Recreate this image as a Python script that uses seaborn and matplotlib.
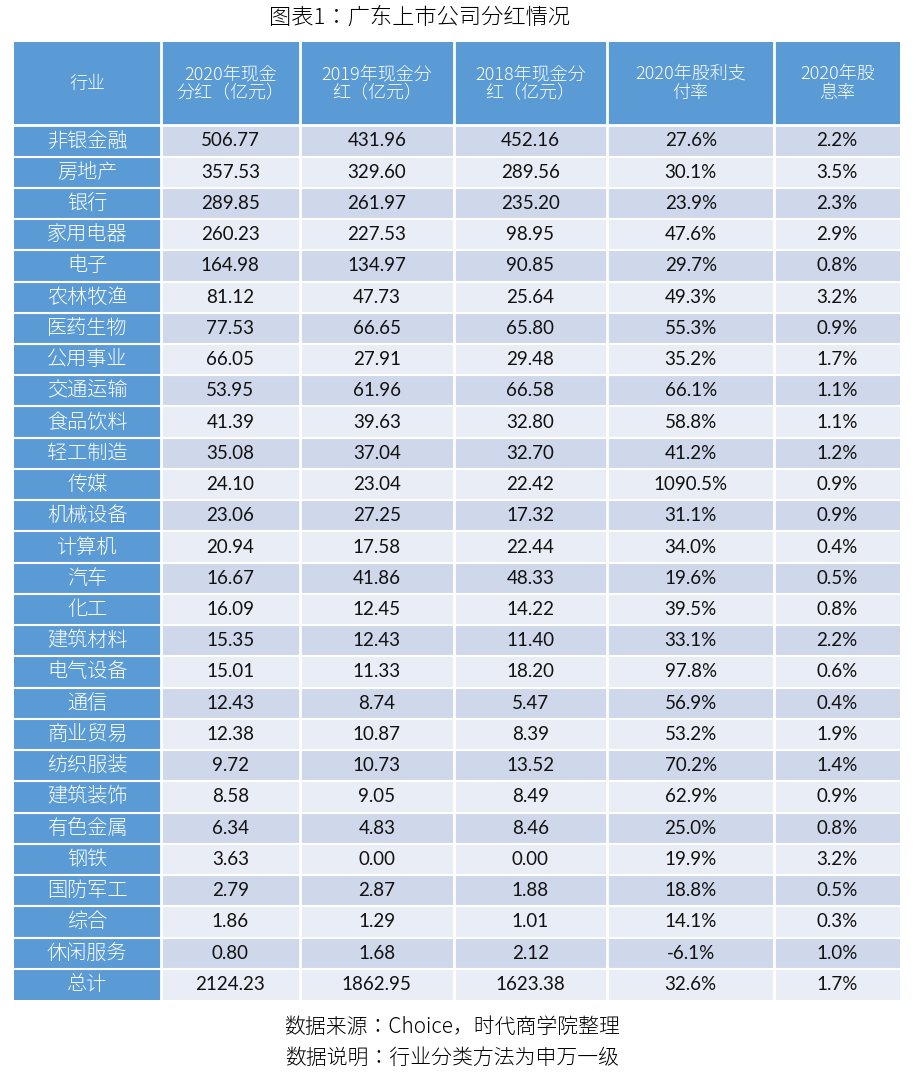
import numpy as np
import matplotlib
matplotlib.use("Agg")
import matplotlib.pyplot as plt
from matplotlib.colors import ListedColormap
from matplotlib import font_manager as fm
import seaborn as sns

industries = ["非银金融","房地产","银行","家用电器","电子","农林牧渔","医药生物","公用事业","交通运输","食品饮料",
              "轻工制造","传媒","机械设备","计算机","汽车","化工","建筑材料","电气设备","通信","商业贸易",
              "纺织服装","建筑装饰","有色金属","钢铁","国防军工","综合","休闲服务","总计"]
div2020 = ["506.77","357.53","289.85","260.23","164.98","81.12","77.53","66.05","53.95","41.39","35.08","24.10","23.06",
           "20.94","16.67","16.09","15.35","15.01","12.43","12.38","9.72","8.58","6.34","3.63","2.79","1.86","0.80","2124.23"]
div2019 = ["431.96","329.60","261.97","227.53","134.97","47.73","66.65","27.91","61.96","39.63","37.04","23.04","27.25",
           "17.58","41.86","12.45","12.43","11.33","8.74","10.87","10.73","9.05","4.83","0.00","2.87","1.29","1.68","1862.95"]
div2018 = ["452.16","289.56","235.20","98.95","90.85","25.64","65.80","29.48","66.58","32.80","32.70","22.42","17.32",
           "22.44","48.33","14.22","11.40","18.20","5.47","8.39","13.52","8.49","8.46","0.00","1.88","1.01","2.12","1623.38"]
payout = ["27.6%","30.1%","23.9%","47.6%","29.7%","49.3%","55.3%","35.2%","66.1%","58.8%","41.2%","1090.5%","31.1%",
          "34.0%","19.6%","39.5%","33.1%","97.8%","56.9%","53.2%","70.2%","62.9%","25.0%","19.9%","18.8%","14.1%","-6.1%","32.6%"]
yield_ = ["2.2%","3.5%","2.3%","2.9%","0.8%","3.2%","0.9%","1.7%","1.1%","1.1%","1.2%","0.9%","0.9%","0.4%","0.5%",
          "0.8%","2.2%","0.6%","0.4%","1.9%","1.4%","0.9%","0.8%","3.2%","0.5%","0.3%","1.0%","1.7%"]
headers = ["行业","2020年现金\n分红（亿元）","2019年现金分\n红（亿元）","2018年现金分\n红（亿元）","2020年股利支\n付率","2020年股\n息率"]
title = "图表1：广东上市公司分红情况"
notes = ["数据来源：Choice，时代商学院整理","数据说明：行业分类方法为申万一级"]

# locate a CJK font file
cjk_path = None
for f in fm.fontManager.ttflist:
    if "CJK" in f.name and ("SC" in f.name or cjk_path is None):
        cjk_path = f.fname
        if "SC" in f.name:
            break
if cjk_path is None:
    import glob
    c = glob.glob("/usr/share/fonts/**/*CJK*", recursive=True)
    cjk_path = c[0] if c else None

def cjk(size, bold=False):
    if cjk_path:
        p = fm.FontProperties(fname=cjk_path, size=size)
    else:
        p = fm.FontProperties(family="Noto Sans CJK SC", size=size)
    if bold:
        p.set_weight("bold")
    return p

colw = [21, 20, 22, 22, 24, 18]
hdr_u, row_u = 8, 3
n = len(industries)
W, H = sum(colw), hdr_u + n * row_u

grid = np.zeros((H, W))
edges = np.concatenate([[0], np.cumsum(colw)])
for r in range(n):
    code = 1 if r % 2 == 0 else 2
    y0 = hdr_u + r * row_u
    grid[y0:y0 + row_u, :] = code
    grid[y0:y0 + row_u, :colw[0]] = 0
grid[:hdr_u, :] = 0

fig = plt.figure(figsize=(9.24, 10.73), dpi=100)
ax = fig.add_axes([14/924, 73/1073, 886/924, 958/1073])
cmap = ListedColormap(["#5B9BD5", "#CFD8EA", "#E9EDF5"])
sns.heatmap(grid, ax=ax, cmap=cmap, vmin=-0.5, vmax=2.5, cbar=False,
            xticklabels=False, yticklabels=False)
for x in edges[1:-1]:
    ax.axvline(x, color="white", lw=2)
ax.axhline(hdr_u, color="white", lw=2)
for r in range(1, n):
    ax.axhline(hdr_u + r * row_u, color="white", lw=1.5)

centers = (edges[:-1] + edges[1:]) / 2
for c, h in enumerate(headers):
    ax.text(centers[c], hdr_u / 2, h, ha="center", va="center", color="white",
            fontproperties=cjk(13, True), linespacing=1.1)
cols = [industries, div2020, div2019, div2018, payout, yield_]
for r in range(n):
    yc = hdr_u + r * row_u + row_u / 2
    ax.text(centers[0], yc, industries[r], ha="center", va="center", color="white",
            fontproperties=cjk(14.5))
    for c in range(1, 6):
        ax.text(centers[c], yc, cols[c][r], ha="center", va="center", color="#111111",
                fontsize=13.5, fontfamily="Lato")

fig.text(420/924, 1 - 18/1073, title, ha="center", va="center", fontproperties=cjk(16, True))
fig.text(452/924, 1 - 1027/1073, notes[0], ha="center", va="center", fontproperties=cjk(15))
fig.text(452/924, 1 - 1058/1073, notes[1], ha="center", va="center", fontproperties=cjk(15))
fig.savefig("out.png", dpi=100, facecolor="white")
